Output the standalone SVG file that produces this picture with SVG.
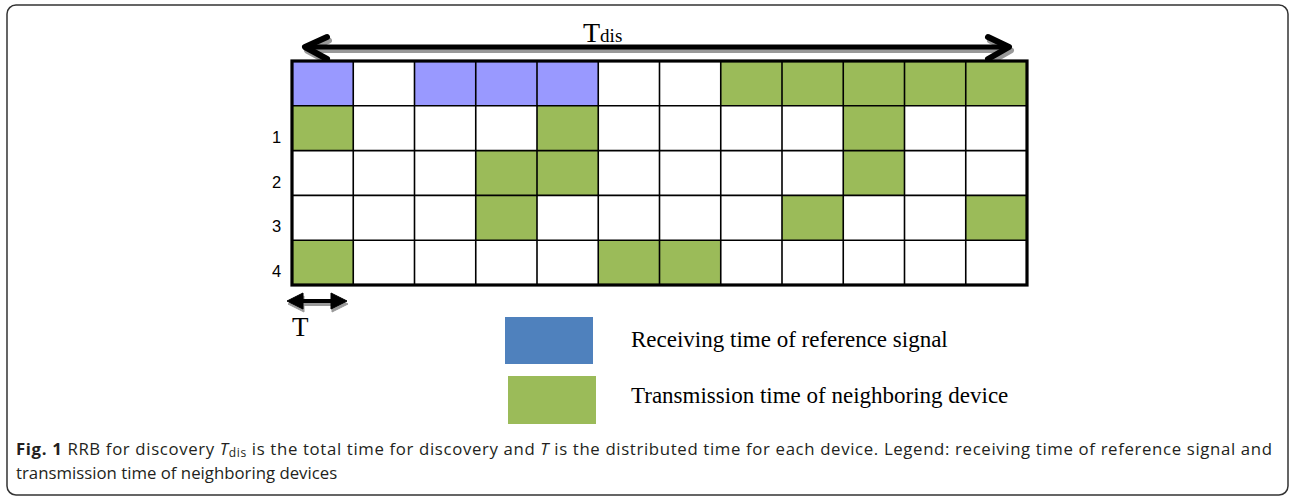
<svg xmlns="http://www.w3.org/2000/svg" width="1290" height="497" viewBox="0 0 1290 497">
<style>
.g{fill:#9BBB59}.b{fill:#9999FF}
.gl{stroke:#000;stroke-width:1.6;fill:none}
.rl{font-family:"Liberation Sans",Arial,sans-serif;font-size:16.5px;fill:#000}
.tm{font-family:"Liberation Serif","Times New Roman",serif;fill:#000}
.cap{font-family:"Open Sans","Liberation Sans",sans-serif;font-size:16.8px;fill:#231f20}
.chev{fill:none;stroke-width:6;stroke-linecap:round;stroke-linejoin:round}
</style>
<rect x="7" y="5" width="1281" height="490" rx="9" fill="#fff" stroke="#333" stroke-width="1.5"/>
<g id="tdis-arrow">
<g stroke="#999" transform="translate(2,3.5)">
<line x1="306" y1="47" x2="1008" y2="47" stroke-width="5"/>
<polyline class="chev" points="327,37 305,47 327,59"/>
<polyline class="chev" points="988,37 1009,47 988,59"/>
</g>
<g stroke="#000">
<line x1="306" y1="47" x2="1008" y2="47" stroke-width="5"/>
<polyline class="chev" points="327,37 305,47 327,59"/>
<polyline class="chev" points="988,37 1009,47 988,59"/>
</g>
<text class="tm" x="583" y="42" font-size="28">T<tspan font-size="19">dis</tspan></text>
</g>
<g id="grid">
<rect class="b" x="292" y="61" width="61.25" height="44.8"/>
<rect class="b" x="414.5" y="61" width="183.75" height="44.8"/>
<rect class="g" x="720.75" y="61" width="306.25" height="44.8"/>
<rect class="g" x="292" y="105.8" width="61.25" height="44.8"/>
<rect class="g" x="537.0" y="105.8" width="61.25" height="44.8"/>
<rect class="g" x="843.25" y="105.8" width="61.25" height="44.8"/>
<rect class="g" x="475.75" y="150.6" width="122.5" height="44.8"/>
<rect class="g" x="843.25" y="150.6" width="61.25" height="44.8"/>
<rect class="g" x="475.75" y="195.4" width="61.25" height="44.8"/>
<rect class="g" x="782" y="195.4" width="61.25" height="44.8"/>
<rect class="g" x="965.75" y="195.4" width="61.25" height="44.8"/>
<rect class="g" x="292" y="240.2" width="61.25" height="44.8"/>
<rect class="g" x="598.25" y="240.2" width="122.5" height="44.8"/>
<path class="gl" d="M353.25 61V285M414.5 61V285M475.75 61V285M537 61V285M598.25 61V285M659.5 61V285M720.75 61V285M782 61V285M843.25 61V285M904.5 61V285M965.75 61V285M292 105.8H1027M292 150.6H1027M292 195.4H1027M292 240.2H1027"/>
<rect x="292" y="61" width="735" height="224" fill="none" stroke="#000" stroke-width="3.2"/>
</g>
<g id="row-labels">
<text class="rl" x="272" y="143">1</text>
<text class="rl" x="272" y="188">2</text>
<text class="rl" x="272" y="232">3</text>
<text class="rl" x="272" y="277">4</text>
</g>
<g id="t-arrow">
<g fill="#999" stroke="#999" transform="translate(1,3)">
<line x1="300" y1="301" x2="335" y2="301" stroke-width="4"/>
<polygon points="287,301 303,293 303,309"/>
<polygon points="347,301 331,293 331,309"/>
</g>
<g fill="#000" stroke="#000">
<line x1="300" y1="301" x2="335" y2="301" stroke-width="4"/>
<polygon points="287,301 303,293 303,309"/>
<polygon points="347,301 331,293 331,309"/>
</g>
<text class="tm" x="292" y="336" font-size="27">T</text>
</g>
<g id="legend-receiving">
<rect x="505" y="317" width="88" height="47" fill="#4F81BD"/>
<text class="tm" x="631" y="347" font-size="23">Receiving time of reference signal</text>
</g>
<g id="legend-transmission">
<rect x="508" y="376" width="88" height="48" fill="#9BBB59"/>
<text class="tm" x="631" y="403" font-size="23">Transmission time of neighboring device</text>
</g>
<g id="caption">
<text class="cap" x="16" y="455" textLength="1256"><tspan font-weight="bold">Fig. 1</tspan> RRB for discovery <tspan font-style="italic">T</tspan><tspan font-size="12" dy="2">dis</tspan><tspan dy="-2"> is the total time for discovery and </tspan><tspan font-style="italic">T</tspan> is the distributed time for each device. Legend: receiving time of reference signal and</text>
<text class="cap" x="16" y="479">transmission time of neighboring devices</text>
</g>
</svg>
